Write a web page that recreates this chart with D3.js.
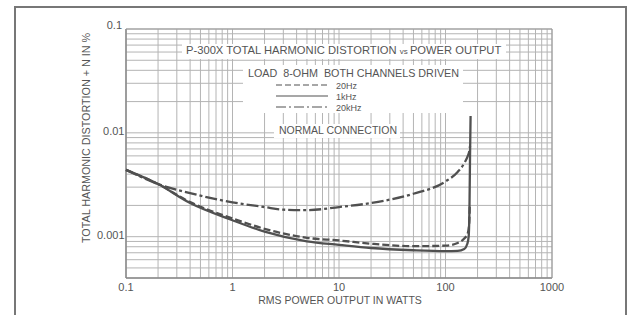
<!DOCTYPE html>
<html><head><meta charset="utf-8">
<script src="https://cdn.jsdelivr.net/npm/d3@7"></script>
<style>html,body{margin:0;padding:0;background:#fff;}svg{display:block;}</style>
</head><body>
<svg id="c" width="632" height="315"></svg>
<script>
// ---- data ----
const xTickValues = [0.1, 1, 10, 100, 1000];
const xTickLabels = ["0.1", "1", "10", "100", "1000"];
const yTickValues = [0.1, 0.01, 0.001];
const yTickLabels = ["0.1", "0.01", "0.001"];
const seriesNames = ["20Hz", "1kHz", "20kHz"];
// power (W)
const power20Hz  = [0.1, 0.2, 0.4, 1, 2, 5, 10, 20, 50, 100, 130, 150, 162, 167, 169];
const thd20Hz    = [0.0044, 0.00321, 0.00215, 0.0015, 0.00119, 0.000975, 0.00092, 0.000855, 0.00081, 0.00082, 0.00087, 0.00096, 0.00108, 0.00135, 0.002];
const power1kHz  = [0.1, 0.2, 0.4, 1, 2, 5, 10, 20, 50, 100, 130, 150, 160, 165, 168, 170, 172];
const thd1kHz    = [0.0044, 0.00321, 0.00211, 0.00144, 0.00112, 0.000902, 0.000835, 0.000778, 0.00074, 0.000726, 0.00073, 0.00076, 0.00085, 0.001, 0.002, 0.006, 0.0145];
const power20kHz = [0.1, 0.2, 0.4, 1, 2, 3, 5, 10, 20, 50, 100, 130, 150, 162, 168, 170];
const thd20kHz   = [0.0044, 0.00321, 0.00263, 0.00214, 0.00193, 0.00182, 0.0018, 0.00193, 0.00211, 0.00259, 0.0034, 0.0042, 0.0051, 0.006, 0.0068, 0.0075];
const titleText = "P-300X TOTAL HARMONIC DISTORTION";
const titleVs = "vs";
const titleText2 = "POWER OUTPUT";
const loadText = "LOAD  8-OHM  BOTH CHANNELS DRIVEN";
const connText = "NORMAL CONNECTION";
const xTitle = "RMS POWER OUTPUT IN WATTS";
const yTitle = "TOTAL HARMONIC DISTORTION + N IN %";

// ---- layout ----
const svg = d3.select("#c");
const L = 126, R = 552, T = 29, B = 278;
const x = d3.scaleLog().domain([0.1, 1000]).range([L, R]);
const y = d3.scaleLog().domain([0.0004, 0.1]).range([B, T]);
const gridCol = "#b4b4b4", inkCol = "#505050", textCol = "#555";
const font = "'Liberation Sans Narrow','Liberation Sans',Arial,sans-serif";

// outer frame
svg.append("rect").attr("x", 15).attr("y", 7).attr("width", 611).attr("height", 330)
  .attr("fill", "none").attr("stroke", "#777").attr("stroke-width", 2);

// grid
const xGrid = [];
for (let e = -1; e < 3; e++) for (let k = 1; k <= 9; k++) xGrid.push(k * Math.pow(10, e));
xGrid.push(1000);
const yGrid = [];
for (let e = -4; e < -1; e++) for (let k = 1; k <= 9; k++) { const v = k * Math.pow(10, e); if (v >= 0.0004 - 1e-12) yGrid.push(v); }
yGrid.push(0.1);
const g = svg.append("g");
g.selectAll("line.vx").data(xGrid).join("line")
  .attr("x1", d => x(d)).attr("x2", d => x(d)).attr("y1", T).attr("y2", B)
  .attr("stroke", gridCol).attr("stroke-width", 1);
g.selectAll("line.hy").data(yGrid).join("line")
  .attr("x1", L).attr("x2", R).attr("y1", d => y(d)).attr("y2", d => y(d))
  .attr("stroke", gridCol).attr("stroke-width", 1);
// axes lines
svg.append("line").attr("x1", L).attr("x2", L).attr("y1", T).attr("y2", B).attr("stroke", "#888").attr("stroke-width", 1.5);
svg.append("line").attr("x1", L).attr("x2", R).attr("y1", B).attr("y2", B).attr("stroke", "#888").attr("stroke-width", 1.5);
svg.append("line").attr("x1", R).attr("x2", R).attr("y1", T).attr("y2", B).attr("stroke", "#999").attr("stroke-width", 1);
svg.append("line").attr("x1", L).attr("x2", R).attr("y1", T).attr("y2", T).attr("stroke", "#999").attr("stroke-width", 1);

// white masks behind text blocks
svg.append("rect").attr("x", 182).attr("y", 44).attr("width", 324).attr("height", 15).attr("fill", "#fff");
svg.append("rect").attr("x", 243).attr("y", 65).attr("width", 220).attr("height", 48).attr("fill", "#fff");
svg.append("rect").attr("x", 274).attr("y", 124).attr("width", 126).attr("height", 14).attr("fill", "#fff");

// title
const tt = svg.append("text").attr("x", 186).attr("y", 53.5).attr("fill", textCol)
  .attr("font-family", font).attr("font-size", 11.2);
tt.append("tspan").text(titleText + " ");
tt.append("tspan").attr("font-size", 8).text(titleVs + " ");
tt.append("tspan").text(titleText2);
svg.append("text").attr("x", 248).attr("y", 77).attr("fill", textCol).attr("font-family", font)
  .attr("font-size", 10.5).attr("textLength", 211).attr("lengthAdjust", "spacingAndGlyphs")
  .attr("xml:space", "preserve").text(loadText);
svg.append("text").attr("x", 279).attr("y", 134).attr("fill", textCol).attr("font-family", font)
  .attr("font-size", 10.5).attr("textLength", 118).attr("lengthAdjust", "spacingAndGlyphs").text(connText);

// legend
const dashes = ["6,3", null, "10,3,2,3"];
const legendY = [85, 96, 107];
seriesNames.forEach((n, i) => {
  svg.append("line").attr("x1", 276).attr("x2", 328).attr("y1", legendY[i]).attr("y2", legendY[i])
    .attr("stroke", inkCol).attr("stroke-width", 1.2).attr("stroke-dasharray", dashes[i]);
  svg.append("text").attr("x", 336).attr("y", legendY[i] + 3.5).attr("fill", textCol)
    .attr("font-family", font).attr("font-size", 9).text(n);
});

// ticks labels
svg.selectAll("text.xt").data(xTickValues).join("text")
  .attr("x", d => x(d)).attr("y", 291).attr("text-anchor", "middle").attr("fill", textCol)
  .attr("font-family", font).attr("font-size", 11).text((d, i) => xTickLabels[i]);
svg.selectAll("text.yt").data(yTickValues).join("text")
  .attr("x", (d, i) => i === 0 ? 122 : 124.5).attr("y", (d, i) => y(d) + (i === 0 ? 0 : 2)).attr("text-anchor", "end").attr("fill", textCol)
  .attr("font-family", font).attr("font-size", 11).text((d, i) => yTickLabels[i]);

// axis titles
svg.append("text").attr("x", 340).attr("y", 304).attr("text-anchor", "middle").attr("fill", textCol)
  .attr("font-family", font).attr("font-size", 10.5).text(xTitle);
svg.append("text").attr("transform", "translate(90,138) rotate(-90)").attr("text-anchor", "middle")
  .attr("fill", textCol).attr("font-family", font).attr("font-size", 10)
  .attr("textLength", 210).attr("lengthAdjust", "spacingAndGlyphs").text(yTitle);

// curves
const line = d3.line().x(d => x(d[0])).y(d => y(d[1])).curve(d3.curveMonotoneX);
const series = [
  {p: power20Hz, v: thd20Hz, dash: "7,3"},
  {p: power20kHz, v: thd20kHz, dash: "12,3,3,3"},
  {p: power1kHz, v: thd1kHz, dash: null}
];
series.forEach(s => {
  svg.append("path").datum(s.p.map((p, i) => [p, s.v[i]])).attr("d", line)
    .attr("fill", "none").attr("stroke", inkCol).attr("stroke-width", 2.3)
    .attr("stroke-dasharray", s.dash);
});
</script>
</body></html>
